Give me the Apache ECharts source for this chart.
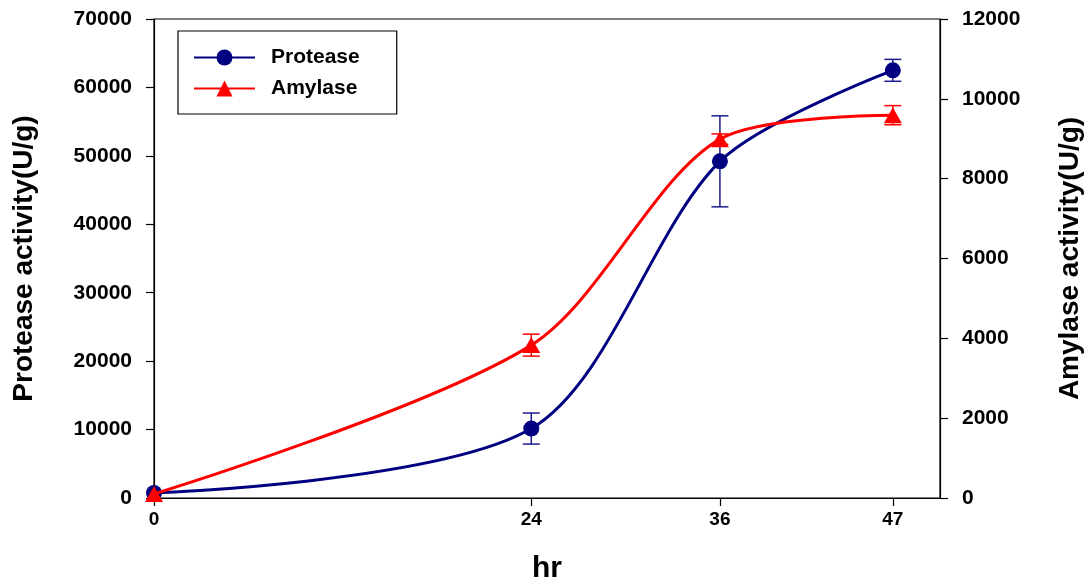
<!DOCTYPE html>
<html>
<head>
<meta charset="utf-8">
<script src="https://cdn.jsdelivr.net/npm/echarts@6/dist/echarts.min.js"></script>
<style>
html,body{margin:0;padding:0;background:#fff;}
#chart{width:1090px;height:584px;}
</style>
</head>
<body>
<div id="chart"></div>
<script>
// ---- data ----
var hours = [0, 24, 36, 47];
var xTickValues = [0, 24, 36, 47];
var protease = [730, 10150, 49200, 62500];
var proteaseSD = [0, 2270, 6650, 1600];
var amylase = [100, 3830, 8990, 9590];
var amylaseSD = [0, 275, 130, 240];
var seriesNames = ['Protease', 'Amylase'];
var xName = 'hr';
var yLeftName = 'Protease activity(U/g)';
var yRightName = 'Amylase activity(U/g)';

var FONT = 'Liberation Sans, Arial, sans-serif';
var BLUE = '#000080';
var RED = '#ff0000';

function pairs(xs, ys) { return xs.map(function (x, i) { return [x, ys[i]]; }); }
function errData(xs, ys, sd) {
  var out = [];
  xs.forEach(function (x, i) { if (sd[i] > 0) out.push([x, ys[i] - sd[i], ys[i] + sd[i]]); });
  return out;
}
function errRender(params, api) {
  var x = api.value(0);
  var lo = api.coord([x, api.value(1)]);
  var hi = api.coord([x, api.value(2)]);
  var w = 8.5;
  var st = { stroke: api.visual('color'), lineWidth: 1.5 };
  return {
    type: 'group',
    children: [
      { type: 'line', shape: { x1: lo[0], y1: lo[1], x2: hi[0], y2: hi[1] }, style: st },
      { type: 'line', shape: { x1: lo[0] - w, y1: lo[1], x2: lo[0] + w, y2: lo[1] }, style: st },
      { type: 'line', shape: { x1: hi[0] - w, y1: hi[1], x2: hi[0] + w, y2: hi[1] }, style: st }
    ]
  };
}
function plain(v) { return String(v); }

var tickLabel = { fontFamily: FONT, fontWeight: 'bold', fontSize: 21, color: '#000', formatter: plain };
var axisLineStyle = { show: true, lineStyle: { color: '#000', width: 1.2 } };

var chart = echarts.init(document.getElementById('chart'), null, { renderer: 'canvas' });
chart.setOption({
  animation: false,
  backgroundColor: '#fff',
  grid: {
    left: 154, right: 150, top: 19, bottom: 86,
    show: true, borderColor: '#000', borderWidth: 1.2, backgroundColor: 'transparent',
    outerBoundsMode: 'none'
  },
  legend: {
    left: 178, top: 31,
    orient: 'vertical',
    data: seriesNames,
    itemWidth: 61, itemHeight: 20, itemGap: 10,
    padding: [16, 37, 15, 15],
    backgroundColor: '#fff',
    borderColor: '#000', borderWidth: 1.2, borderRadius: 0,
    textStyle: { fontFamily: FONT, fontWeight: 'bold', fontSize: 21, color: '#000', padding: [0, 0, 0, 11] }
  },
  xAxis: {
    type: 'value', min: 0, max: 50,
    name: xName, nameLocation: 'middle', nameGap: 56,
    nameTextStyle: { fontFamily: FONT, fontWeight: 'bold', fontSize: 30, color: '#000' },
    axisLine: axisLineStyle,
    axisTick: { show: true, length: 8, customValues: xTickValues, lineStyle: { color: '#000', width: 1.2 } },
    axisLabel: Object.assign({}, tickLabel, { customValues: xTickValues, margin: 12, fontSize: 19 }),
    splitLine: { show: false }
  },
  yAxis: [
    {
      type: 'value', min: 0, max: 70000, interval: 10000, position: 'left',
      name: yLeftName, nameLocation: 'middle', nameGap: 116, nameRotate: 90,
      nameTextStyle: { fontFamily: FONT, fontWeight: 'bold', fontSize: 28, color: '#000' },
      axisLine: axisLineStyle,
      axisTick: { show: true, length: 8, lineStyle: { color: '#000', width: 1.2 } },
      axisLabel: Object.assign({}, tickLabel, { margin: 22 }),
      splitLine: { show: false }
    },
    {
      type: 'value', min: 0, max: 12000, interval: 2000, position: 'right',
      name: yRightName, nameLocation: 'middle', nameGap: 116, nameRotate: 90,
      nameTextStyle: { fontFamily: FONT, fontWeight: 'bold', fontSize: 28, color: '#000' },
      axisLine: axisLineStyle,
      axisTick: { show: true, length: 8, lineStyle: { color: '#000', width: 1.2 } },
      axisLabel: Object.assign({}, tickLabel, { margin: 22 }),
      splitLine: { show: false }
    }
  ],
  series: [
    {
      type: 'custom', name: 'ProteaseErr', yAxisIndex: 0, z: 1,
      itemStyle: { color: '#1c1c8e' },
      renderItem: errRender,
      encode: { x: 0, y: [1, 2] },
      data: errData(hours, protease, proteaseSD),
      silent: true
    },
    {
      type: 'custom', name: 'AmylaseErr', yAxisIndex: 1, z: 1,
      itemStyle: { color: RED },
      renderItem: errRender,
      encode: { x: 0, y: [1, 2] },
      data: errData(hours, amylase, amylaseSD),
      silent: true
    },
    {
      type: 'line', name: seriesNames[0], yAxisIndex: 0, z: 3,
      data: pairs(hours, protease),
      smooth: 0.3,
      symbol: 'circle', symbolSize: 16, showAllSymbol: true,
      itemStyle: { color: BLUE },
      lineStyle: { color: BLUE, width: 3 }
    },
    {
      type: 'line', name: seriesNames[1], yAxisIndex: 1, z: 4,
      data: pairs(hours, amylase),
      smooth: 0.3,
      symbol: 'triangle', symbolSize: [18, 16], showAllSymbol: true,
      itemStyle: { color: RED },
      lineStyle: { color: RED, width: 3 }
    }
  ]
});
</script>
</body>
</html>
